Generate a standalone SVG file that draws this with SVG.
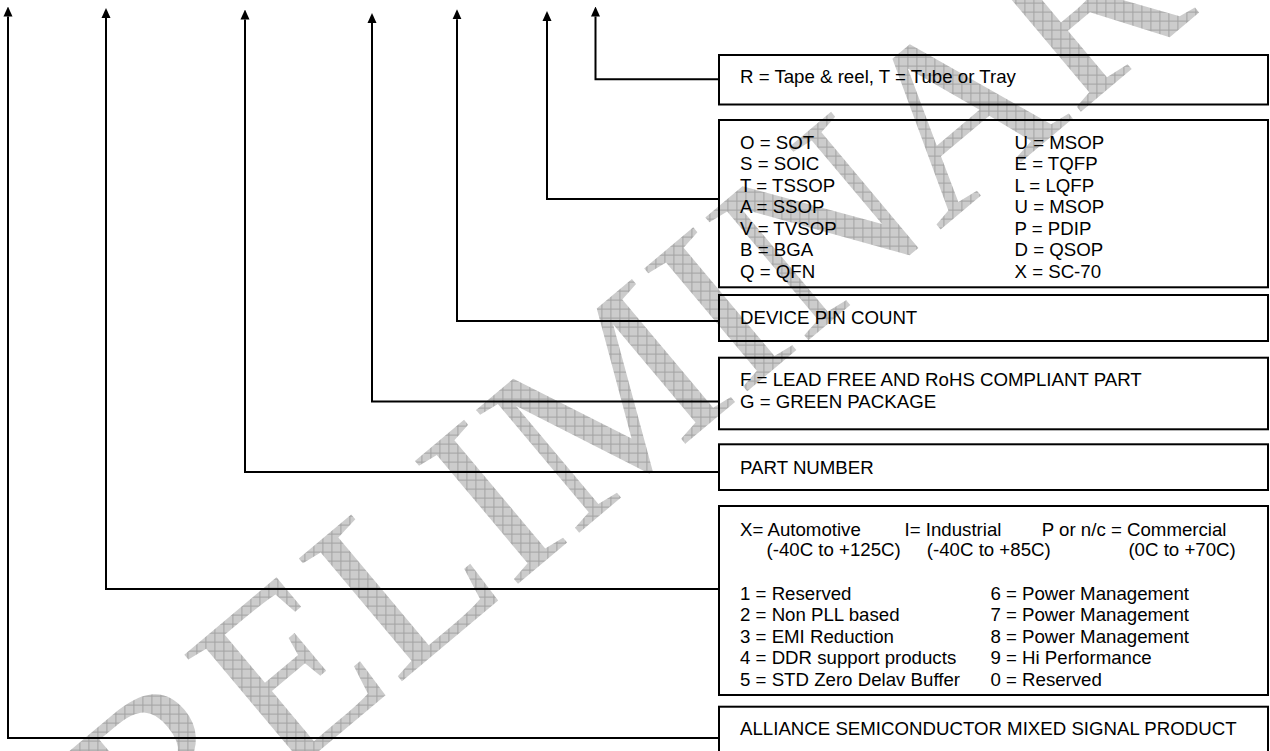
<svg xmlns="http://www.w3.org/2000/svg" width="1270" height="751" viewBox="0 0 1270 751">
<defs>
<pattern id="hatch" patternUnits="userSpaceOnUse" width="9" height="9" patternTransform="rotate(40)">
<rect width="9" height="9" fill="#cccccc"/>
<path d="M0 0.5 H9 M0.5 0 V9" stroke="#a2a2a2" stroke-width="1" fill="none"/>
</pattern>
<marker id="arrow" markerUnits="userSpaceOnUse" markerWidth="10" markerHeight="10" refX="0" refY="4.5" orient="auto" viewBox="0 0 10 9">
<path d="M0 0 L10 4.5 L0 9 Z" fill="#000"/>
</marker>
<style>
.box{fill:none;stroke:#000;stroke-width:2}
.conn{fill:none;stroke:#000;stroke-width:2;marker-end:url(#arrow)}
.t{font-family:"Liberation Sans",Arial,sans-serif;font-size:18.67px;fill:#000}
.wm{font-family:"Liberation Serif","Times New Roman",serif;font-size:245px;fill:url(#hatch)}
</style>
</defs>
<g id="watermark" transform="translate(52.4,974.6) rotate(-40)">
<text class="wm" x="0" y="0">PRELIMINARY</text>
</g>
<g id="connectors">
<path class="conn" d="M719 738 H8 V16.5"/>
<path class="conn" d="M719 589 H106 V18"/>
<path class="conn" d="M719 472 H245 V19.5"/>
<path class="conn" d="M719 401.5 H372 V23"/>
<path class="conn" d="M719 321 H457 V19.3"/>
<path class="conn" d="M719 199 H547 V21"/>
<path class="conn" d="M719 79.3 H595.5 V16.5"/>
</g>
<g id="node-packing">
<rect class="box" x="719" y="55" width="549" height="49.5"/>
<text class="t" x="740" y="83">R = Tape &amp; reel, T = Tube or Tray</text>
</g>
<g id="node-package">
<rect class="box" x="719" y="120" width="549" height="167.3"/>
<text class="t" x="740" y="148.5">O = SOT</text>
<text class="t" x="740" y="170">S = SOIC</text>
<text class="t" x="740" y="191.5">T = TSSOP</text>
<text class="t" x="740" y="213">A = SSOP</text>
<text class="t" x="740" y="234.5">V = TVSOP</text>
<text class="t" x="740" y="256">B = BGA</text>
<text class="t" x="740" y="277.5">Q = QFN</text>
<text class="t" x="1014.5" y="148.5">U = MSOP</text>
<text class="t" x="1014.5" y="170">E = TQFP</text>
<text class="t" x="1014.5" y="191.5">L = LQFP</text>
<text class="t" x="1014.5" y="213">U = MSOP</text>
<text class="t" x="1014.5" y="234.5">P = PDIP</text>
<text class="t" x="1014.5" y="256">D = QSOP</text>
<text class="t" x="1014.5" y="277.5">X = SC-70</text>
</g>
<g id="node-pincount">
<rect class="box" x="719" y="295" width="549" height="46"/>
<text class="t" x="740" y="324">DEVICE PIN COUNT</text>
</g>
<g id="node-leadfree">
<rect class="box" x="719" y="357.7" width="549" height="71.6"/>
<text class="t" x="740" y="386">F = LEAD FREE AND RoHS COMPLIANT PART</text>
<text class="t" x="740" y="407.5">G = GREEN PACKAGE</text>
</g>
<g id="node-partnumber">
<rect class="box" x="719" y="444.3" width="549" height="45.7"/>
<text class="t" x="740" y="474">PART NUMBER</text>
</g>
<g id="node-grade">
<rect class="box" x="719" y="506" width="549" height="189"/>
<text class="t" x="740" y="535.5">X= Automotive</text>
<text class="t" x="904.5" y="535.5">I= Industrial</text>
<text class="t" x="1041.8" y="535.5">P or n/c = Commercial</text>
<text class="t" x="766.5" y="556">(-40C to +125C)</text>
<text class="t" x="926.8" y="556">(-40C to +85C)</text>
<text class="t" x="1128.4" y="556">(0C to +70C)</text>
<text class="t" x="740" y="599.5">1 = Reserved</text>
<text class="t" x="740" y="621">2 = Non PLL based</text>
<text class="t" x="740" y="642.5">3 = EMI Reduction</text>
<text class="t" x="740" y="664">4 = DDR support products</text>
<text class="t" x="740" y="685.5">5 = STD Zero Delav Buffer</text>
<text class="t" x="990.4" y="599.5">6 = Power Management</text>
<text class="t" x="990.4" y="621">7 = Power Management</text>
<text class="t" x="990.4" y="642.5">8 = Power Management</text>
<text class="t" x="990.4" y="664">9 = Hi Performance</text>
<text class="t" x="990.4" y="685.5">0 = Reserved</text>
</g>
<g id="node-alliance">
<rect class="box" x="719" y="706.7" width="549" height="60"/>
<text class="t" x="740" y="735">ALLIANCE SEMICONDUCTOR MIXED SIGNAL PRODUCT</text>
</g>
</svg>
